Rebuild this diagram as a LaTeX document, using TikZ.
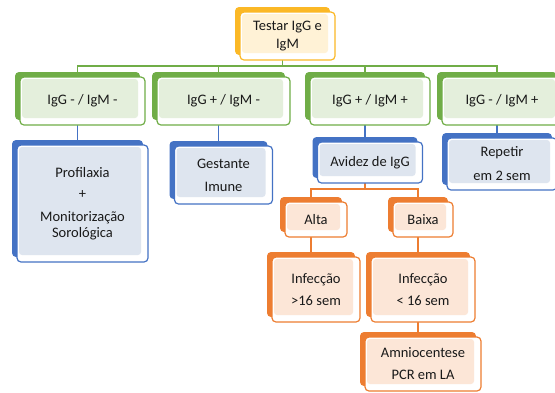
\documentclass[tikz,border=0pt]{standalone}
\usepackage{fontspec}
\setmainfont{Carlito}
\usetikzlibrary{positioning,shadows,backgrounds}

\definecolor{ydark}{HTML}{FBB826}
\definecolor{ylight}{HTML}{FFF2D6}
\definecolor{gdark}{HTML}{70AD47}
\definecolor{glight}{HTML}{E4EFDC}
\definecolor{bdark}{HTML}{4472C4}
\definecolor{blight}{HTML}{DEE5EF}
\definecolor{odark}{HTML}{ED7D31}
\definecolor{olight}{HTML}{FCE6D7}

\begin{document}
\begin{tikzpicture}[
  x=1pt, y=-1pt,
  every node/.style={font=\fontsize{14.5}{17}\selectfont, text=black!90},
  card/.style 2 args={draw=#1, fill=white, rounded corners=4pt, line width=1.2pt,
    align=center, inner sep=2pt, outer sep=0pt,
    general shadow={fill=#1, shadow xshift=-5pt, shadow yshift=5pt},
    path picture={\fill[#2, rounded corners=3pt]
      ([shift={(2pt,-2pt)}]path picture bounding box.north west) rectangle
      ([shift={(-7pt,7pt)}]path picture bounding box.south east);}},
  ybox/.style={card={ydark}{ylight}},
  gbox/.style={card={gdark}{glight}, minimum height=48pt},
  bbox/.style={card={bdark}{blight}},
  obox/.style={card={odark}{olight}},
  gline/.style={draw=gdark, line width=1.2pt},
  bline/.style={draw=bdark, line width=1.2pt},
  oline/.style={draw=odark, line width=1.2pt}
]
\useasboundingbox (0,0) rectangle (555,392);
\clip (0,0) rectangle (555,392);

% test
\node[ybox, minimum width=95pt, minimum height=48pt] (root) at (287.5,36) {Testar IgG e\\[1pt]IgM};

% serology
\node[gbox, minimum width=125pt] (g1) at (82.5,101) {IgG - / IgM -};
\node[gbox, minimum width=133pt, right=12pt of g1] (g2) {IgG + / IgM -};
\node[gbox, minimum width=120pt, right=20pt of g2] (g3) {IgG + / IgM +};
\node[gbox, minimum width=120pt, right=12pt of g3] (g4) {IgG - / IgM +};

% conduct
\node[bbox, minimum width=131pt, minimum height=117pt, below=20pt of g1] (prof) {Profilaxia\\[4pt]+\\[6pt]Monitorização\\[-1pt]Sorológica};
\node[bbox, minimum width=98pt, minimum height=58pt, below=21pt of g2] (imune) {Gestante\\[6pt]Imune};
\node[bbox, minimum width=105pt, minimum height=41pt, below=17pt of g3] (avidez) {Avidez de IgG};
\node[bbox, minimum width=110pt, minimum height=52pt, below=13pt of g4] (repetir) {Repetir\\[7pt]em 2 sem};

% avidity
\node[obox, minimum width=62pt, minimum height=35pt, below=19pt of avidez, xshift=-54pt] (alta) {Alta};
\node[obox, minimum width=60pt, minimum height=35pt, below=19pt of avidez, xshift=53pt] (baixa) {Baixa};
\node[obox, minimum width=88pt, minimum height=65pt, below=20pt of alta] (inf1) {Infecção\\[5pt]>16 sem};
\node[obox, minimum width=104pt, minimum height=65pt, below=20pt of baixa] (inf2) {Infecção\\[5pt]< 16 sem};
\node[obox, minimum width=116pt, minimum height=54pt, below=15pt of inf2] (amnio) {Amniocentese\\[5pt]PCR em LA};

\begin{scope}[on background layer]
  \coordinate (bar) at ([xshift=-5pt,yshift=-6pt]root.south);
  \draw[gline] ([xshift=-5pt]root.south) -- (bar);
  \foreach \n in {g1,g2,g3,g4}
    \draw[gline] ([xshift=-5pt]\n.north) |- (bar);

  \draw[bline] ([xshift=-5pt]g1.south) -- ([xshift=-5pt]prof.north);
  \draw[bline] ([xshift=-5pt]g2.south) -- ([xshift=-5pt]imune.north);
  \draw[bline] ([xshift=-5pt]g3.south) -- ([xshift=-5pt]avidez.north);
  \draw[bline] ([xshift=-5pt]g4.south) -- ([xshift=-5pt]repetir.north);

  \coordinate (obar) at ([xshift=-5pt,yshift=-6pt]avidez.south);
  \draw[oline] ([xshift=-5pt]avidez.south) -- (obar);
  \foreach \n in {alta,baixa}
    \draw[oline] ([xshift=-5pt]\n.north) |- (obar);
  \draw[oline] ([xshift=-5pt]alta.south) -- ([xshift=-5pt]inf1.north);
  \draw[oline] ([xshift=-5pt]baixa.south) -- ([xshift=-5pt]inf2.north);
  \draw[oline] ([xshift=-5pt]inf2.south) -- ([xshift=-5pt]amnio.north);
\end{scope}
\end{tikzpicture}
\end{document}
